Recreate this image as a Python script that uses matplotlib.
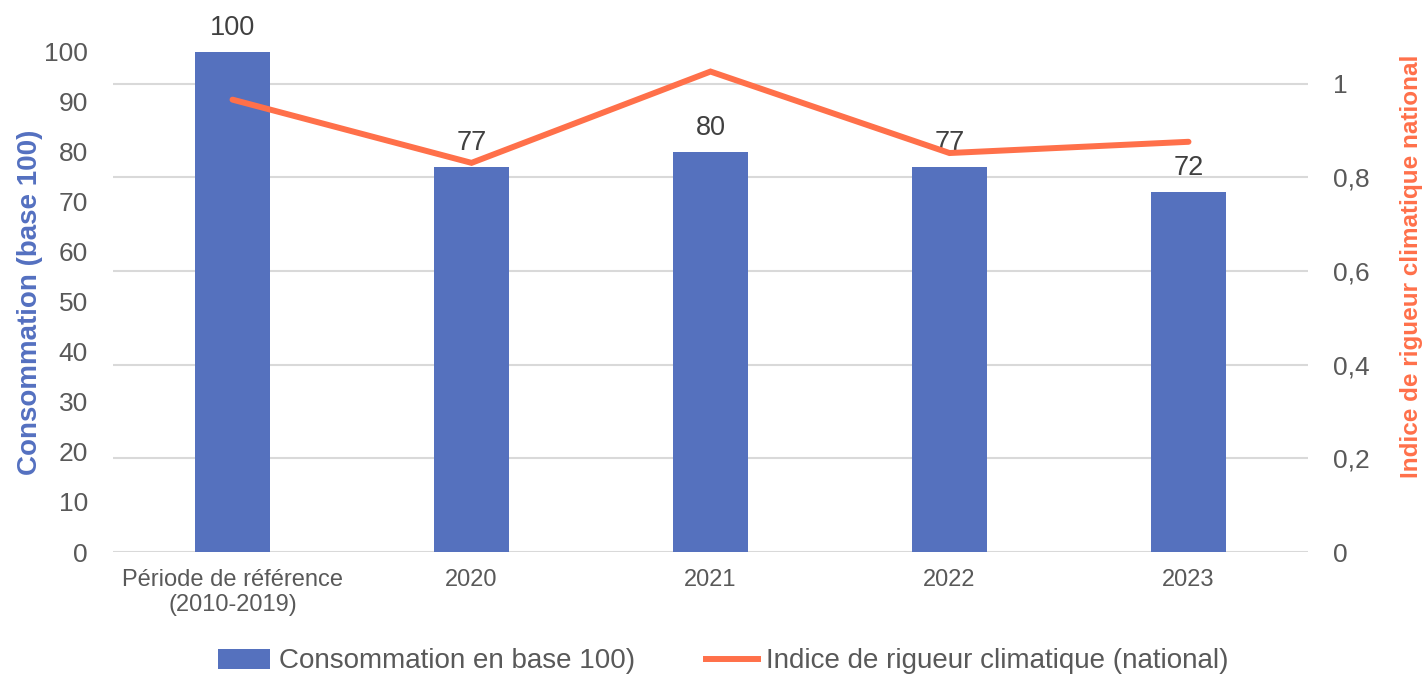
import matplotlib
matplotlib.use('Agg')
import matplotlib.pyplot as plt
import numpy as np

plt.rcParams['font.family'] = ['Liberation Sans', 'DejaVu Sans']

categories = ['Période de référence\n(2010-2019)', '2020', '2021', '2022', '2023']
consommation = [100, 77, 80, 77, 72]
rigueur = [0.966, 0.831, 1.026, 0.852, 0.876]
left_ticks = list(range(0, 101, 10))
right_ticks = [0, 0.2, 0.4, 0.6, 0.8, 1]
right_tick_labels = ['0', '0,2', '0,4', '0,6', '0,8', '1']

bar_color = '#5571BE'
line_color = '#FF704A'
tick_color = '#595959'
grid_color = '#D9D9D9'

fig = plt.figure(figsize=(14.27, 6.75), dpi=100)
ax = fig.add_axes([0.0792, 0.1822, 0.8374, 0.7412])
ax2 = ax.twinx()

x = np.arange(len(categories))

# right axis owns the gridlines, drawn underneath the bars
ax2.set_ylim(0, 500 / 468)
ax2.set_yticks(right_ticks)
ax2.set_yticklabels(right_tick_labels)
ax2.grid(axis='y', color=grid_color, linewidth=1.5)
ax.set_zorder(ax2.get_zorder() + 1)
ax.patch.set_visible(False)

bars = ax.bar(x, consommation, width=0.31, color=bar_color, zorder=3)
for xi, v in zip(x, consommation):
    ax.annotate(str(v), (xi, v), xytext=(0, 12), textcoords='offset points',
                ha='center', va='baseline', fontsize=19.5, color='#404040')

# line lives on the top axes but uses the right-hand scale
ax.plot(x, rigueur, color=line_color, linewidth=4.3, solid_capstyle='round',
        solid_joinstyle='miter', zorder=4, transform=ax2.transData)

ax.set_xlim(-0.5, len(categories) - 0.5)
ax.set_ylim(0, 100)
ax.set_yticks(left_ticks)
ax.set_xticks(x)
ax.set_xticklabels(categories, fontsize=17, color=tick_color)
ax.tick_params(axis='y', length=0, pad=18, labelsize=19, labelcolor=tick_color)
ax.tick_params(axis='x', length=0, pad=12)
ax2.tick_params(axis='y', length=0, pad=18, labelsize=19, labelcolor=tick_color)

for a in (ax, ax2):
    for s in a.spines.values():
        s.set_visible(False)

ax.set_ylabel('Consommation (base 100)', fontsize=20, fontweight='bold',
              color='#5470C0')
ax.yaxis.set_label_coords(-0.0586, 0.5)
ax2.set_ylabel('Indice de rigueur climatique national', fontsize=17.5,
               fontweight='bold', color=line_color)
ax2.yaxis.set_label_coords(1.077, 0.571)

line_handle = plt.Line2D([], [], color=line_color, linewidth=4.3)
fig.legend([bars, line_handle],
           ['Consommation en base 100)', 'Indice de rigueur climatique (national)'],
           loc='center', bbox_to_anchor=(0.507, 0.02), ncol=2, frameon=False,
           fontsize=20, handlelength=1.87, handletextpad=0.3, columnspacing=2.55,
           labelcolor=tick_color)

fig.savefig('out.png', dpi=100)
